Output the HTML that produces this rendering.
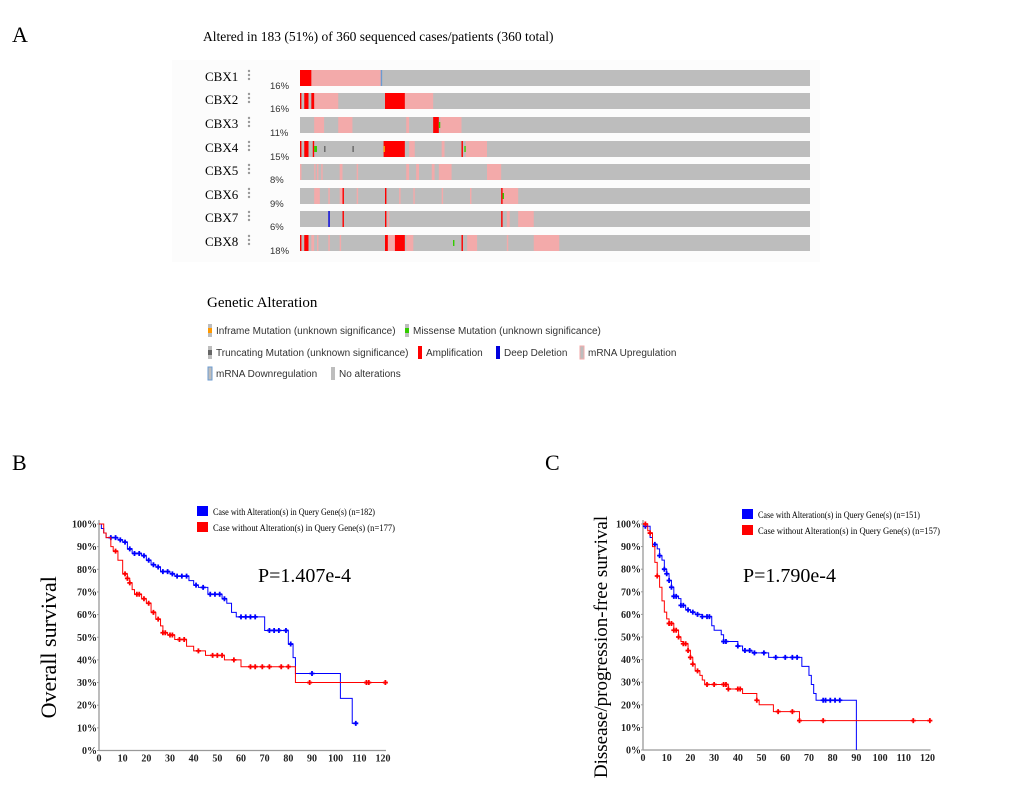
<!DOCTYPE html>
<html><head><meta charset="utf-8"><style>
body{margin:0;background:#fff;width:1020px;height:793px;overflow:hidden;font-family:"Liberation Serif",serif}
svg{position:absolute;left:0;top:0}
</style></head><body>
<svg id="s" width="1020" height="793" xmlns="http://www.w3.org/2000/svg">
<text x="12" y="42" font-size="22" font-family="Liberation Serif">A</text>
<text x="12" y="470" font-size="22" font-family="Liberation Serif">B</text>
<text x="545" y="470" font-size="22" font-family="Liberation Serif">C</text>
<text x="203" y="41" font-size="13.5" font-family="Liberation Serif">Altered in 183 (51%) of 360 sequenced cases/patients (360 total)</text>
<rect x="172" y="60" width="648" height="202" fill="#fcfcfc"/>
<g id="onco"></g>
<g id="legend"></g>
<g id="kmB"></g>
<g id="kmC"></g>
</svg>
<script>
const NS="http://www.w3.org/2000/svg";
function mk(tag,attrs,parent,txt){const e=document.createElementNS(NS,tag);for(const k in attrs)e.setAttribute(k,attrs[k]);if(txt!==undefined)e.textContent=txt;parent.appendChild(e);return e;}
const colors={amp:"#ff0000",up:"#f3aaaa",del:"#0000dd",down:"#6b9bd1",miss:"#33cc00",trunc:"#666666",infr:"#ff9900"};
// oncoprint data (case index ranges out of 360)
const genes=["CBX1","CBX2","CBX3","CBX4","CBX5","CBX6","CBX7","CBX8"];
const pcts=["16%","16%","11%","15%","8%","9%","6%","18%"];
const alts=[
 [[8,57,"up"],[0,8,"amp"],[57,58,"down"]],
 [[10,27,"up"],[74,94,"up"],[0,1,"amp"],[3,6,"amp"],[8,10,"amp"],[60,74,"amp"]],
 [[10,17,"up"],[27,37,"up"],[75,77,"up"],[99,114,"up"],[94,98,"amp"],[98,99,"miss"]],
 [[77,81,"up"],[100,102,"up"],[117,132,"up"],[0,1,"amp"],[3,6,"amp"],[9,10,"amp"],[59,74,"amp"],[114,115,"amp"],[10,12,"miss"],[17,18,"trunc"],[37,38,"trunc"],[59,60,"infr"],[116,117,"miss"]],
 [[0,1,"up"],[10,11,"up"],[12,13,"up"],[15,16,"up"],[28,30,"up"],[40,41,"up"],[75,77,"up"],[82,84,"up"],[93,95,"up"],[98,107,"up"],[132,142,"up"]],
 [[10,14,"up"],[20,21,"up"],[28,30,"up"],[40,41,"up"],[70,71,"up"],[80,81,"up"],[100,101,"up"],[120,121,"up"],[143,154,"up"],[30,31,"amp"],[60,61,"amp"],[142,143,"amp"],[143,144,"miss"]],
 [[62,63,"up"],[146,148,"up"],[154,165,"up"],[20,21,"del"],[30,31,"amp"],[60,61,"amp"],[142,143,"amp"]],
 [[8,10,"up"],[12,13,"up"],[20,21,"up"],[28,29,"up"],[60,74,"up"],[75,80,"up"],[118,125,"up"],[146,147,"up"],[165,183,"up"],[0,1,"amp"],[3,6,"amp"],[60,62,"amp"],[67,74,"amp"],[114,115,"amp"],[108,109,"miss"]]
];
const onco=document.getElementById("onco");
const tx0=300,tw=510,rowY=[70,93,117,141,164,188,211,235];
function cx(i){return tx0+i/360*tw;}
genes.forEach((g,r)=>{
 const y=rowY[r];
 mk("text",{x:205,y:y+11,"font-size":13,"font-family":"Liberation Serif",},onco,g);
 for(let k=0;k<3;k++)mk("circle",{cx:249,cy:y+1+k*4,r:1.2,fill:"#999",},onco);
 mk("text",{x:270,y:y+19,"font-size":9.5,fill:"#333","font-family":"Liberation Sans",},onco,pcts[r]);
 mk("rect",{x:tx0,y:y,width:tw,height:16,fill:"#bdbdbd",},onco);
 alts[r].forEach(a=>{
  const t=a[2];const small=(t==="miss"||t==="trunc"||t==="infr");
  const e=mk("rect",{x:cx(a[0]),y:small?y+5:y,width:Math.max(cx(a[1])-cx(a[0]),1.2),height:small?6:16,fill:colors[t]},onco);
  
  
 });
});
// legend
const lg=document.getElementById("legend");
mk("text",{x:207,y:307,"font-size":15,"font-family":"Liberation Serif",},lg,"Genetic Alteration");
const items=[[208,331,"infr","Inframe Mutation (unknown significance)"],[405,331,"miss","Missense Mutation (unknown significance)"],
[208,353,"trunc","Truncating Mutation (unknown significance)"],[418,353,"amp","Amplification"],[496,353,"del","Deep Deletion"],[580,353,"up","mRNA Upregulation"],
[208,374,"down","mRNA Downregulation"],[331,374,"none","No alterations"]];
items.forEach(it=>{
 const [x,y,t,l]=it;
 if(t==="amp"||t==="del"){mk("rect",{x:x,y:y-7,width:4,height:13,fill:colors[t],},lg);}
 else if(t==="up"||t==="down"){mk("rect",{x:x,y:y-7,width:4,height:13,fill:"#bdbdbd",stroke:colors[t],"stroke-width":1,},lg);}
 else{mk("rect",{x:x,y:y-7,width:4,height:13,fill:"#bdbdbd",},lg);
  if(t!=="none")mk("rect",{x:x,y:y-3,width:4,height:5,fill:colors[t],},lg);}
 mk("text",{x:x+8,y:y+3,"font-size":10,fill:"#333","font-family":"Liberation Sans",},lg,l);
});
// KM data
const bBlueT=[0,1,2,3,8,10,12,14,18,20,22,24,26,30,32,38,40,42,46,52,54,56,58,70,80,82,83,102,107,109];
const bBlueS=[100,98,96,94,93,92,89,87,86,84,82,81,79,78,77,75,73,72,69,67,65,61,59,53,47,41,34,23,12,12];
const bBlueC=[5,7,9,11,13,15,17,19,21,23,25,27,29,31,33,35,37,41,44,47,49,51,53,60,62,64,66,72,74,76,79,81,90,108.5];
const bRedT=[0,2,3,5,6,8,10,12,13,14,15,18,20,22,24,26,27,29,32,37,40,45,53,60,83,121];
const bRedS=[100,96,94,90,88,84,78,76,74,71,69,67,65,61,58,55,52,51,49,46,44,42,40,37,30,30];
const bRedC=[7,11,12,13,16,17,19,21,23,25,27,28,30,31,34,36,42,48,50,52,57,64,66,69,72,77,80,89,113,114,121];
const cBlueT=[0,1,3,4,6,7,8,9,10,11,12,13,15,16,18,20,22,25,29,30,33,34,40,42,46,53,67,70,71,72,73,90];
const cBlueS=[100,99,94,91,89,86,84,80,78,75,72,68,67,64,62,61,60,59,55,53,51,48,46,44,43,41,37,33,29,25,22,0];
const cBlueC=[1,5,7,9,10,11,12,13,14,16,17,19,21,23,25,27,28,34,35,40,43,45,47,51,56,60,63,65,76,77,79,81,83];
const cRedT=[0,2,3,4,5,6,7,8,9,10,11,13,15,16,17,19,20,21,22,24,25,26,36,42,48,49,55,66,121];
const cRedS=[100,97,96,90,83,77,72,66,61,58,56,53,50,48,47,44,41,38,35,33,31,29,27,25,22,20,17,13,13];
const cRedC=[1,3,6,11,12,13,14,15,17,18,19,20,21,23,27,30,34,35,36,40,41,48,57,63,66,76,114,121];
const xTicks=[0,10,20,30,40,50,60,70,80,90,100,110,120];
const yTicks=[0,10,20,30,40,50,60,70,80,90,100];

function km(g,x0,x1,y0,y1,series,legendX,legendY,nLabels,pX,pY,pText,yTitle,titleX){
 const X=t=>x0+t/120*(x1-x0), Y=s=>y0-s/100*(y0-y1);
 mk("line",{x1:x0,y1:y1-4,x2:x0,y2:y0,stroke:"#999","stroke-width":1.3,},g);
 mk("line",{x1:x0,y1:y0,x2:x1+3,y2:y0,stroke:"#999","stroke-width":1.3,},g);
 yTicks.forEach(v=>{const e=mk("text",{x:x0-2,y:Y(v)+3.5,"font-size":10,"text-anchor":"end","font-weight":"bold","font-family":"Liberation Serif",fill:"#222"},g,v+"%");
  
  const l=mk("line",{x1:x0-2,y1:Y(v),x2:x0,y2:Y(v),stroke:"#999"},g);});
 xTicks.forEach(v=>{const e=mk("text",{x:X(v),y:y0+11,"font-size":10,"text-anchor":"middle","font-weight":"bold","font-family":"Liberation Serif",fill:"#222"},g,v);
  });
 series.forEach(sr=>{
  const [T,S,C,col,name]=sr;
  let d="M"+X(T[0])+","+Y(S[0]);
  for(let i=1;i<T.length;i++){d+=" H"+X(T[i])+" V"+Y(S[i]);}
  const p=mk("path",{d:d,fill:"none",stroke:col,"stroke-width":1},g);
  
  C.forEach(c=>{let s=S[0];for(let i=0;i<T.length;i++){if(T[i]<=c)s=S[i];}
   const m=mk("path",{d:`M${X(c)-2.5},${Y(s)}h5M${X(c)},${Y(s)-2.5}v5`,stroke:col,"stroke-width":1.8},g);
   });
 });
 const labs=["Case with Alteration(s) in Query Gene(s)","Case without Alteration(s) in Query Gene(s)"];
 [["#0000ff",0],["#ff0000",1]].forEach(([col,i])=>{
  const r=mk("rect",{x:legendX,y:legendY+i*16-5,width:11,height:10,fill:col},g);
  const t=mk("text",{x:legendX+16,y:legendY+i*16+4,"font-size":9,"font-family":"Liberation Serif",textLength:i?182:162,lengthAdjust:"spacingAndGlyphs"},g,labs[i]+"  "+nLabels[i]);
  
 });
 const pt=mk("text",{x:pX,y:pY,"font-size":20,"font-family":"Liberation Serif"},g,pText);
 
 const yt=mk("text",{x:titleX,y:(y0+y1)/2+10,"font-size":yTitle.length>20?19:22,"text-anchor":"middle","font-family":"Liberation Serif",transform:`rotate(-90 ${titleX} ${(y0+y1)/2+10})`},g,yTitle);
 
}
km(document.getElementById("kmB"),99,383,750.5,524,[[bBlueT,bBlueS,bBlueC,"#0000ff","altered"],[bRedT,bRedS,bRedC,"#ff0000","unaltered"]],197,511,["(n=182)","(n=177)"],258,582,"P=1.407e-4","Overall survival",56);
km(document.getElementById("kmC"),643,927.5,750,524,[[cBlueT,cBlueS,cBlueC,"#0000ff","altered"],[cRedT,cRedS,cRedC,"#ff0000","unaltered"]],742,514,["(n=151)","(n=157)"],743,582,"P=1.790e-4","Dissease/progression-free survival",607);
</script>
</body></html>
